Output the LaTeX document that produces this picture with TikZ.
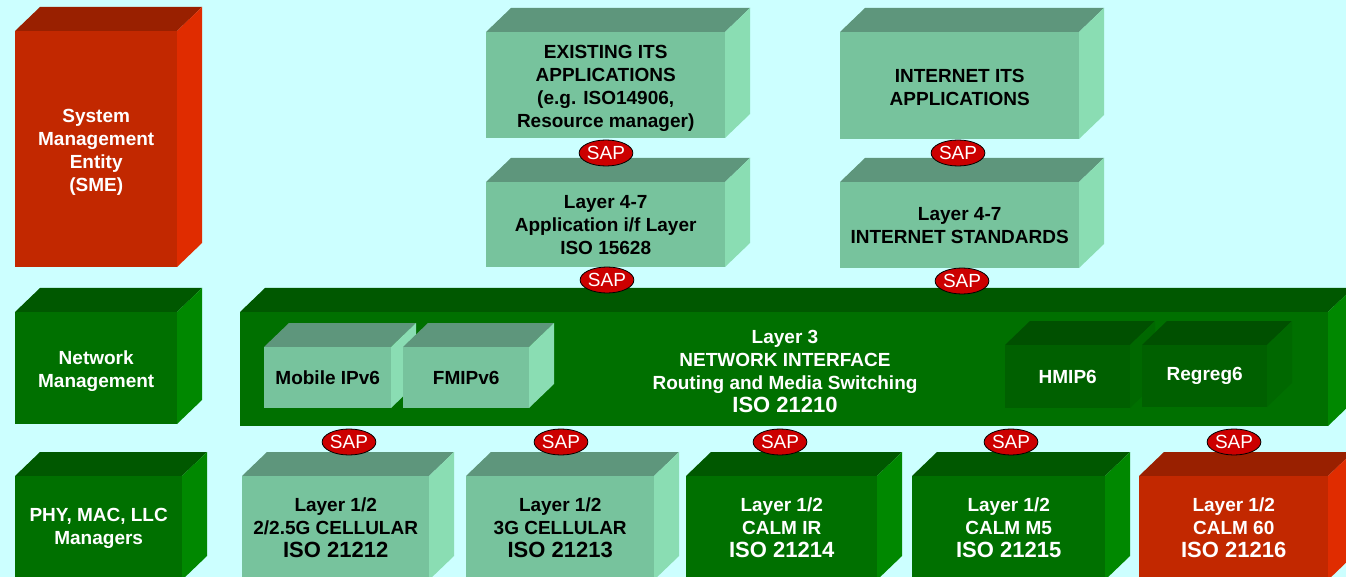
\documentclass[tikz,border=0pt]{standalone}
\usepackage{fontspec}
\setmainfont{Liberation Sans}
\usetikzlibrary{shapes.geometric}
\definecolor{bg}{HTML}{CCFFFF}
\definecolor{lgF}{HTML}{77C39D}
\definecolor{lgT}{HTML}{5E967C}
\definecolor{lgS}{HTML}{8ADDB3}
\definecolor{dgF}{HTML}{007000}
\definecolor{dgT}{HTML}{005800}
\definecolor{dgS}{HTML}{008800}
\definecolor{rdF}{HTML}{C22800}
\definecolor{rdT}{HTML}{992000}
\definecolor{rdS}{HTML}{E02C00}
\definecolor{inF}{HTML}{006000}
\definecolor{inT}{HTML}{005000}
\definecolor{inS}{HTML}{006800}
\definecolor{sapred}{HTML}{CC0000}
\tikzset{
  txt/.style={font=\fontsize{19}{23}\selectfont\bfseries, align=center},
  dark/.style={txt, text=white},
  light/.style={txt, text=black},
  sap/.style={ellipse, fill=sapred, draw=black, line width=0.8pt,
    minimum width=52pt, minimum height=26pt, inner sep=0pt,
    text=white, font=\fontsize{19}{19}\selectfont},
}
% \cube[node options]{name}{x1}{y1}{x2}{y2}{colour prefix}{text}
\newcommand{\cube}[8][]{%
  \fill[#7T] (#3,#4) -- (#3+25,#4-24) -- (#5+25,#4-24) -- (#5,#4) -- cycle;
  \fill[#7S] (#5,#4) -- (#5+25,#4-24) -- (#5+25,#6-24) -- (#5,#6) -- cycle;
  \node[anchor=north west, inner sep=0pt, fill=#7F,
        minimum width={(#5-#3)*1pt}, minimum height={(#6-#4)*1pt}, #1]
        (#2) at (#3,#4) {#8};
}
\newcommand{\bigline}[1]{{\fontsize{22}{23}\selectfont #1}}
\newcommand{\shifted}[1]{\raisebox{-3.5pt}[\height][\depth]{\begin{tabular}{@{}c@{}}#1\end{tabular}}}
\begin{document}
\begin{tikzpicture}[x=1pt,y=-1pt]
\useasboundingbox (0,0) rectangle (1346,577);
\clip (0,0) rectangle (1346,577);
\fill[bg] (0,0) rectangle (1346,577);

% left column
\cube[dark]{sme}{15}{31}{177}{267}{rd}{\shifted{System\\Management\\Entity\\(SME)}}
\cube[dark]{nm}{15}{312}{177}{424}{dg}{\shifted{Network\\Management}}
\cube[dark]{phy}{15}{476}{182}{580}{dg}{PHY, MAC, LLC\\Managers}

% top boxes
\cube[light]{exist}{486}{32}{725}{138}{lg}{\shifted{EXISTING ITS\\APPLICATIONS\\(e.g. ISO14906,\\Resource manager)}}
\cube[light]{l47a}{486}{182}{725}{267}{lg}{Layer 4-7\\Application i/f Layer\\ISO 15628}
\cube[light]{inet}{840}{32}{1079}{139}{lg}{\shifted{INTERNET ITS\\APPLICATIONS}}
\cube[light]{l47b}{840}{182}{1079}{268}{lg}{Layer 4-7\\INTERNET STANDARDS}

% network interface
\cube{ni}{240}{312}{1328}{426}{dg}{}
\cube[light]{mip}{264}{347}{391}{408}{lg}{Mobile IPv6}
\cube[light]{fmip}{403}{347}{529}{408}{lg}{FMIPv6}
\cube[dark]{hmip}{1005}{345}{1130}{408}{in}{HMIP6}
\cube[dark]{regreg}{1142}{345}{1267}{407}{in}{Regreg6}
\node[dark] (l3) at (785,371) {Layer 3\\NETWORK INTERFACE\\Routing and Media Switching\\\bigline{ISO 21210}};

% bottom row
\cube[light]{cell2}{242}{476}{429}{580}{lg}{Layer 1/2\\2/2.5G CELLULAR\\\bigline{ISO 21212}}
\cube[light]{cell3}{466}{476}{654}{580}{lg}{Layer 1/2\\3G CELLULAR\\\bigline{ISO 21213}}
\cube[dark]{ir}{686}{476}{877}{580}{dg}{Layer 1/2\\CALM IR\\\bigline{ISO 21214}}
\cube[dark]{mfive}{912}{476}{1105}{580}{dg}{Layer 1/2\\CALM M5\\\bigline{ISO 21215}}
\cube[dark]{sixty}{1139}{476}{1328}{580}{rd}{Layer 1/2\\CALM 60\\\bigline{ISO 21216}}

% SAPs
\node[sap] (sapA) at (606,153) {SAP};
\node[sap] (sapB) at (607,280) {SAP};
\node[sap] (sapC) at (958,153) {SAP};
\node[sap] (sapD) at (962,281) {SAP};
\node[sap] (sap1) at (349,442) {SAP};
\node[sap] (sap2) at (561,442) {SAP};
\node[sap] (sap3) at (780,442) {SAP};
\node[sap] (sap4) at (1011,442) {SAP};
\node[sap] (sap5) at (1234,442) {SAP};
\end{tikzpicture}
\end{document}
